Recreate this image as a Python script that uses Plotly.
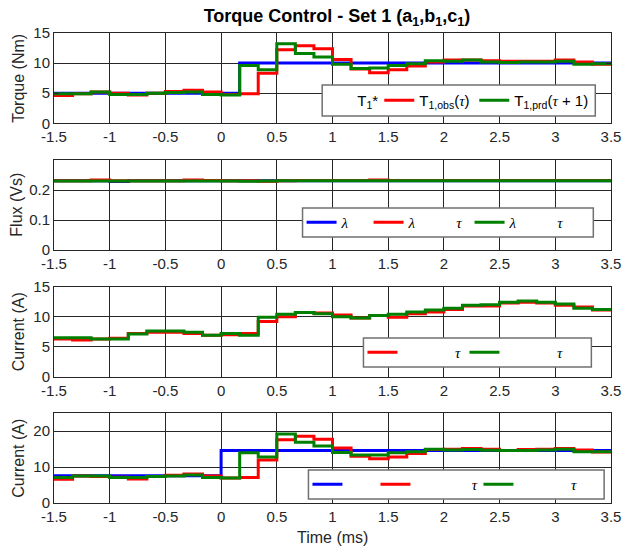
import plotly.graph_objects as go

# ---------------- data ----------------
t_ms = [-1.5, -1.3333, -1.1667, -1.0, -0.8333, -0.6667, -0.5, -0.3333, -0.1667, 0.0,
        0.1667, 0.3333, 0.5, 0.6667, 0.8333, 1.0, 1.1667, 1.3333, 1.5, 1.6667,
        1.8333, 2.0, 2.1667, 2.3333, 2.5, 2.6667, 2.8333, 3.0, 3.1667, 3.3333, 3.5]

torque_ref = [5.0, 5.0, 5.0, 5.0, 5.0, 5.0, 5.0, 5.0, 5.0, 5.0,
              10.0, 10.0, 10.0, 10.0, 10.0, 10.0, 10.0, 10.0, 10.0, 10.0,
              10.0, 10.0, 10.0, 10.0, 10.0, 10.0, 10.0, 10.0, 10.0, 10.0]
torque_obs = [4.6, 4.9, 5.2, 5.0, 4.7, 5.0, 5.3, 5.5, 5.2, 4.8,
              4.9, 8.3, 12.2, 12.9, 12.4, 10.6, 9.0, 8.4, 8.9, 9.5,
              10.2, 10.5, 10.5, 10.4, 10.3, 10.3, 10.3, 10.5, 10.2, 9.8]
torque_prd = [4.9, 4.9, 5.2, 4.8, 4.8, 5.0, 5.1, 5.2, 4.8, 4.7,
              9.6, 8.9, 13.2, 11.6, 11.0, 9.8, 9.1, 9.2, 9.6, 9.9,
              10.4, 10.3, 10.5, 10.2, 10.1, 10.2, 10.2, 10.3, 9.8, 9.9]

flux_ref = [0.231, 0.231, 0.231, 0.228, 0.231, 0.231, 0.231, 0.231, 0.231, 0.231,
            0.231, 0.231, 0.231, 0.231, 0.231, 0.231, 0.231, 0.231, 0.231, 0.231,
            0.231, 0.231, 0.231, 0.231, 0.231, 0.231, 0.231, 0.231, 0.231, 0.231]
flux_obs = [0.231, 0.231, 0.233, 0.231, 0.231, 0.231, 0.231, 0.233, 0.232, 0.231,
            0.231, 0.229, 0.231, 0.232, 0.232, 0.232, 0.232, 0.233, 0.232, 0.232,
            0.232, 0.232, 0.232, 0.232, 0.232, 0.232, 0.232, 0.232, 0.232, 0.232]
flux_prd = [0.230, 0.230, 0.230, 0.230, 0.230, 0.230, 0.230, 0.230, 0.230, 0.230,
            0.229, 0.230, 0.231, 0.231, 0.231, 0.231, 0.231, 0.231, 0.231, 0.231,
            0.231, 0.231, 0.231, 0.231, 0.231, 0.231, 0.231, 0.231, 0.231, 0.231]

current_a_obs = [6.3, 6.1, 6.3, 6.4, 7.2, 7.4, 7.4, 7.2, 6.9, 7.0,
                 7.2, 9.2, 10.0, 10.7, 10.6, 10.3, 9.8, 10.2, 9.9, 10.5,
                 10.8, 11.2, 11.8, 11.8, 12.3, 12.4, 12.3, 11.9, 11.6, 11.1]
current_a_prd = [6.5, 6.5, 6.3, 6.3, 7.1, 7.6, 7.6, 7.4, 6.9, 7.2,
                 6.9, 9.9, 10.4, 10.7, 10.5, 10.0, 9.8, 10.2, 10.4, 10.8,
                 11.1, 11.4, 11.9, 12.0, 12.4, 12.6, 12.4, 12.1, 11.4, 11.2]

current_b_ref = [7.6, 7.6, 7.6, 7.6, 7.6, 7.6, 7.6, 7.6, 7.6, 14.6,
                 14.6, 14.6, 14.6, 14.6, 14.6, 14.6, 14.6, 14.6, 14.6, 14.6,
                 14.6, 14.6, 14.6, 14.6, 14.6, 14.6, 14.6, 14.6, 14.6, 14.6]
current_b_obs = [6.6, 7.5, 7.4, 7.2, 6.7, 7.4, 7.7, 8.1, 7.5, 7.0,
                 7.1, 12.0, 17.6, 18.6, 17.8, 15.3, 13.0, 12.3, 12.8, 13.8,
                 14.9, 15.0, 15.2, 15.0, 14.6, 14.9, 15.0, 15.2, 14.8, 14.2]
current_b_prd = [7.1, 7.5, 7.5, 7.1, 7.1, 7.4, 7.5, 7.8, 7.1, 7.0,
                 14.0, 12.8, 19.2, 16.9, 15.9, 14.1, 13.4, 13.4, 14.0, 14.3,
                 15.0, 14.8, 14.9, 14.7, 14.6, 14.6, 14.8, 15.0, 14.3, 14.3]

x_tickvals = [-1.5, -1, -0.5, 0, 0.5, 1, 1.5, 2, 2.5, 3, 3.5]
x_ticktext = ["-1.5", "-1", "-0.5", "0", "0.5", "1", "1.5", "2", "2.5", "3", "3.5"]

# ---------------- style ----------------
BLUE, RED, GREEN = "#0000FF", "#FF0000", "#008000"
INK = "#262626"
W, H = 631, 553
ML, MR, MT, MB = 54, 10, 33, 50
PW, PH = W - ML - MR, H - MT - MB

def px_x(p):
    return (p - ML) / PW

def px_y(p):
    return (H - MB - p) / PH

domains = [[px_y(123.3), 1.0], [px_y(250), px_y(160)],
           [px_y(376.7), px_y(286.7)], [0.0, px_y(413.3)]]

SERIF = "font-family:'Liberation Serif'"
TAU = f"<span style=\"{SERIF}\"><i>τ</i></span>"
LAM = f"<span style=\"{SERIF}\"><i>λ</i></span>"
NB = "\u00a0"

fig = go.Figure()

def step(vals, color, row, name, legend, lw=None, show=True):
    fig.add_trace(go.Scatter(
        x=t_ms, y=vals + [vals[-1]], mode="lines", line=dict(color=color, width=3, shape="hv"),
        xaxis="x" if row == 1 else f"x{row}", yaxis="y" if row == 1 else f"y{row}",
        name=name, legend=legend, showlegend=show, legendwidth=lw, hoverinfo="skip"))

def dummy(name, legend, lw=None):
    fig.add_trace(go.Scatter(x=[None], y=[None], mode="lines",
                             line=dict(color="rgba(0,0,0,0)", width=3),
                             name=name, legend=legend, legendwidth=lw))

# subplot 1
dummy("T<sub>1</sub>*", "legend", 17)
step(torque_ref, BLUE, 1, "T1*", "legend", show=False)
step(torque_obs, RED, 1, f"T<sub>1,obs</sub>({TAU})", "legend", 50)
step(torque_prd, GREEN, 1, f"T<sub>1,prd</sub>({TAU} + 1)", "legend")
# subplot 2
step(flux_ref, BLUE, 2, LAM, "legend2", 22)
step(flux_obs, RED, 2, LAM + NB * 11 + TAU, "legend2", 56)
step(flux_prd, GREEN, 2, LAM + NB * 11 + TAU, "legend2")
# subplot 3
step(current_a_obs, RED, 3, NB * 14 + TAU, "legend3", 57)
step(current_a_prd, GREEN, 3, NB * 14 + TAU, "legend3")
# subplot 4
step(current_b_ref, BLUE, 4, NB, "legend4", 23)
step(current_b_obs, RED, 4, NB * 15 + TAU, "legend4", 58)
step(current_b_prd, GREEN, 4, NB * 14 + TAU, "legend4")

axis_common = dict(showline=True, linecolor=INK, linewidth=1, mirror="ticks",
                   ticks="inside", ticklen=5, tickcolor=INK, showgrid=True,
                   gridcolor="#262626", gridwidth=1, zeroline=False,
                   ticklabeloverflow="allow",
                   tickfont=dict(family="Liberation Sans", size=15, color=INK))

y_specs = [
    dict(range=[0, 15], tickvals=[0, 5, 10, 15], ticktext=["0", "5", "10", "15"]),
    dict(range=[0, 0.3], tickvals=[0, 0.1, 0.2], ticktext=["0", "0.1", "0.2"]),
    dict(range=[0, 15], tickvals=[0, 5, 10, 15], ticktext=["0", "5", "10", "15"]),
    dict(range=[0, 25], tickvals=[0, 10, 20], ticktext=["0", "10", "20"]),
]

layout = dict(width=W, height=H, margin=dict(l=ML, r=MR, t=MT, b=MB),
              paper_bgcolor="white", plot_bgcolor="white",
              font=dict(family="Liberation Sans", color=INK))
for i in range(4):
    sx = "" if i == 0 else str(i + 1)
    layout[f"xaxis{sx}"] = dict(axis_common, domain=[0, 1], anchor=f"y{sx}",
                                range=[-1.5, 3.5], tickvals=x_tickvals, ticktext=x_ticktext)
    layout[f"yaxis{sx}"] = dict(axis_common, domain=domains[i], anchor=f"x{sx}", **y_specs[i])

layout["title"] = dict(text="<b>Torque Control - Set 1 (a<sub>1</sub>,b<sub>1</sub>,c<sub>1</sub>)</b>",
                       x=337 / W, xanchor="center",
                       y=1 - 16 / H, yanchor="middle",
                       font=dict(family="Liberation Sans", size=18, color="black"))

# legend boxes (pixel boxes) and legends
boxes = [(327, 605, 85, 116), (307, 603, 208, 237), (369, 601, 338, 367), (313, 614, 470, 499)]
legend_x0 = [322, 306, 368, 312]
shapes = []
for i, (x0, x1, y0, y1) in enumerate(boxes):
    shapes.append(dict(type="rect", xref="paper", yref="paper",
                       x0=px_x(x0), x1=px_x(x1), y0=px_y(y1), y1=px_y(y0),
                       line=dict(color="#707070", width=1.5), fillcolor="white", layer="above"))
    key = "legend" if i == 0 else f"legend{i + 1}"
    fam = "Liberation Sans" if i == 0 else "Liberation Serif"
    layout[key] = dict(x=px_x(legend_x0[i]), xanchor="left",
                       y=px_y((y0 + y1) / 2), yanchor="middle",
                       orientation="h", bgcolor="rgba(0,0,0,0)", borderwidth=0,
                       font=dict(family=fam, size=15, color="black"))
layout["shapes"] = shapes

# axis titles
ytitles = ["Torque (Nm)", "Flux (Vs)", "Current (A)", "Current (A)"]
ytitle_x = [17, 15, 18, 18]
ann = []
for i in range(4):
    ann.append(dict(text=ytitles[i], xref="paper", yref="paper",
                    x=px_x(ytitle_x[i]), y=(domains[i][0] + domains[i][1]) / 2,
                    xanchor="center", yanchor="middle", textangle=-90, showarrow=False,
                    font=dict(family="Liberation Sans", size=16, color=INK)))
ann.append(dict(text="Time (ms)", xref="paper", yref="paper", x=px_x(337), y=px_y(537),
                xanchor="center", yanchor="middle", showarrow=False,
                font=dict(family="Liberation Sans", size=16, color=INK)))
layout["annotations"] = ann

fig.update_layout(layout)
fig.write_html("out.html", config={"displayModeBar": False},
               post_script="document.body.style.margin='0';document.body.style.padding='0';")
